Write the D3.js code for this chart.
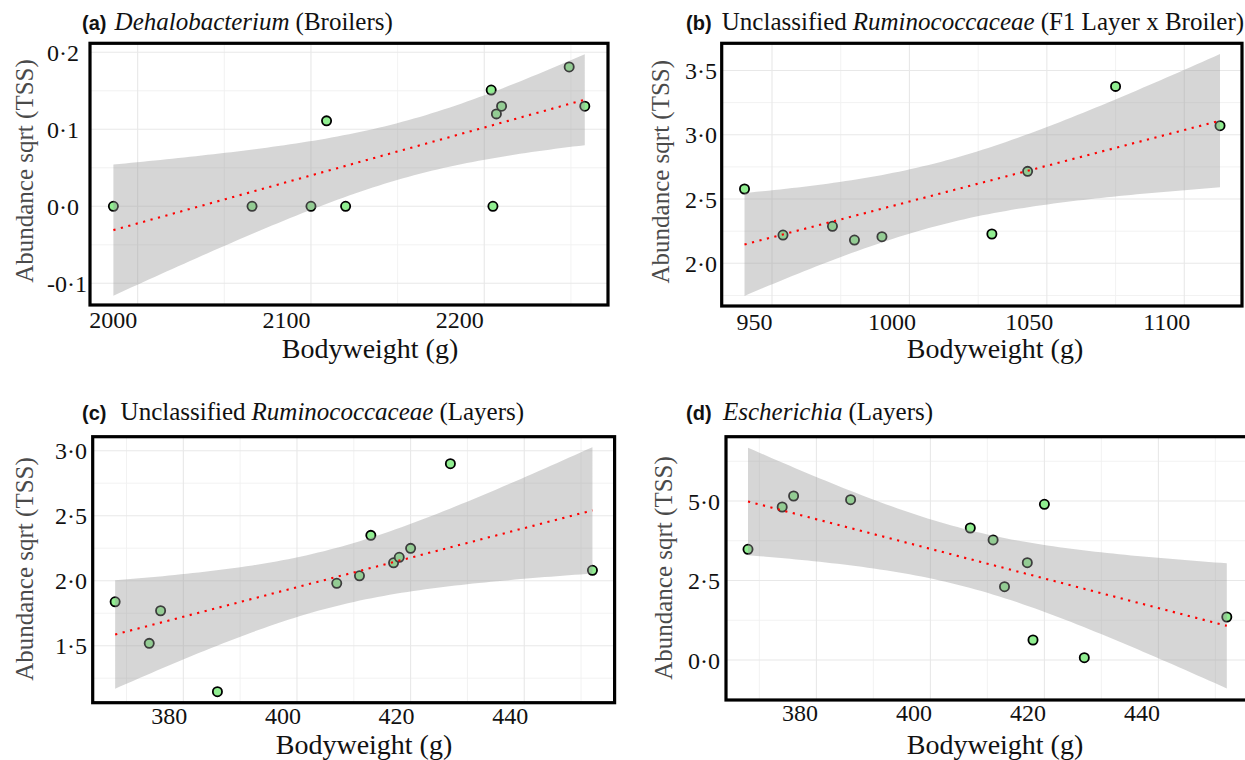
<!DOCTYPE html>
<html>
<head>
<meta charset="utf-8">
<script src="https://cdn.jsdelivr.net/npm/d3@7"></script>
<style>
  body { margin: 0; background: #fff; }
  svg { display: block; }
  .serif { font-family: "Liberation Serif", "Times New Roman", serif; }
  .tag { font-family: "Liberation Sans", Arial, sans-serif; font-weight: bold; }
</style>
</head>
<body>
<svg id="chart" width="1245" height="760"></svg>
<script>
// (a) broilers, Dehalobacterium
var broilerWeight = [1986, 2066, 2100, 2109, 2120, 2204, 2205, 2207, 2210, 2249, 2258];
var broilerAbund  = [0, 0, 0, 0.111, 0, 0.151, 0, 0.120, 0.130, 0.181, 0.130];

// (b) F1 layer x broiler, unclassified Ruminococcaceae
var f1Weight = [940, 954, 972, 980, 990, 1030, 1043, 1075, 1113];
var f1Abund  = [2.578, 2.220, 2.288, 2.181, 2.207, 2.228, 2.715, 3.376, 3.070];

// (c) and (d) layers, same birds
var layerWeight = [368, 374, 376, 386, 407, 411, 413, 417, 418, 420, 427, 452];
var layerRumino = [1.838, 1.518, 1.769, 1.146, 1.980, 2.038, 2.349, 2.138, 2.180, 2.249, 2.900, 2.080];
var layerEsch   = [3.481, 4.811, 5.157, 5.041, 4.151, 3.774, 2.305, 3.060, 0.629, 4.896, 0.072, 1.352];

// tick values
var ticksXA = [2000, 2100, 2200];
var ticksYA = [-0.1, 0, 0.1, 0.2];
var ticksXB = [950, 1000, 1050, 1100];
var ticksYB = [2.0, 2.5, 3.0, 3.5];
var ticksXLayer = [380, 400, 420, 440];
var ticksYC = [1.5, 2.0, 2.5, 3.0];
var ticksYD = [0, 2.5, 5.0];

// titles: [text, style]
var titleA = [["(a)", "tag"], ["Dehalobacterium", "it"], ["(Broilers)", "rm"]];
var titleB = [["(b)", "tag"], ["Unclassified", "rm"], ["Ruminococcaceae", "it"], ["(F1 Layer x Broiler)", "rm"]];
var titleC = [["(c)", "tag"], ["Unclassified", "rm"], ["Ruminococcaceae", "it"], ["(Layers)", "rm"]];
var titleD = [["(d)", "tag"], ["Escherichia", "it"], ["(Layers)", "rm"]];

// two-sided 95% t quantiles by degrees of freedom
var tCrit = {7: 2.365, 9: 2.262, 10: 2.228};

var panels = [
  {x: broilerWeight, y: broilerAbund, xt: ticksXA, yt: ticksYA, title: titleA,
   box: [90, 43.3, 608, 305], xd: [1972.5, 2271.4], yd: [-0.1282, 0.2117],
   titlePos: [82, 30, 114.6], yLabX: 47, xLabY: 328, xLabDx: -25,
   xTitle: [370, 358], yTitle: [24, 171]},
  {x: f1Weight, y: f1Abund, xt: ticksXB, yt: ticksYB, title: titleB,
   box: [721.7, 43.3, 1242, 306], xd: [931.7, 1121], yd: [1.668, 3.711],
   titlePos: [686, 30, 721.8], yLabX: 685, xLabY: 330, xLabDx: -18,
   xTitle: [995, 358], yTitle: [660.6, 171.7]},
  {x: layerWeight, y: layerRumino, xt: ticksXLayer, yt: ticksYC, title: titleC,
   box: [92.7, 436.7, 614.6, 702.7], xd: [364.05, 455.9], yd: [1.0615, 3.108],
   titlePos: [82, 419.5, 120.6], yLabX: 55, xLabY: 723.5, xLabDx: -14.5,
   xTitle: [364, 753.5], yTitle: [24, 569]},
  {x: layerWeight, y: layerEsch, xt: ticksXLayer, yt: ticksYD, title: titleD,
   box: [726, 436.7, 1250, 700], xd: [364.14, 456.07], yd: [-1.258, 7.022],
   titlePos: [686, 420, 723], yLabX: 688, xLabY: 721, xLabDx: -17,
   xTitle: [995, 753.5], yTitle: [663.5, 568]}
];

var svg = d3.select("#chart");

function fmtY(d) {
  var s = Math.abs(d).toFixed(1).replace(".", "\u00b7");
  return (d < 0 ? "-" : "") + s;
}

function minors(ticks, dom) {
  var step = ticks[1] - ticks[0];
  return d3.range(ticks[0] - step / 2, dom[1], step).filter(function(v) {
    return v > dom[0] && v < dom[1];
  });
}

// lm fit with 95% confidence band
function smooth(xs, ys) {
  var n = xs.length, mx = d3.mean(xs), my = d3.mean(ys);
  var sxx = d3.sum(xs, function(v) { return (v - mx) * (v - mx); });
  var sxy = d3.sum(xs, function(v, i) { return (v - mx) * (ys[i] - my); });
  var b = sxy / sxx, a = my - b * mx;
  var sse = d3.sum(xs, function(v, i) { var r = ys[i] - (a + b * v); return r * r; });
  var s = Math.sqrt(sse / (n - 2)), t = tCrit[n - 2];
  var lo = d3.min(xs), hi = d3.max(xs);
  return d3.range(0, 81).map(function(k) {
    var v = lo + k * (hi - lo) / 80;
    var f = a + b * v;
    var se = s * Math.sqrt(1 / n + (v - mx) * (v - mx) / sxx);
    return {x: v, fit: f, lo: f - t * se, hi: f + t * se};
  });
}

panels.forEach(function(p, idx) {
  var L = p.box[0], T = p.box[1], R = p.box[2], B = p.box[3];
  var x = d3.scaleLinear().domain(p.xd).range([L, R]);
  var y = d3.scaleLinear().domain(p.yd).range([B, T]);
  var g = svg.append("g");

  g.append("clipPath").attr("id", "clip" + idx)
    .append("rect").attr("x", L).attr("y", T).attr("width", R - L).attr("height", B - T);

  var inner = g.append("g").attr("clip-path", "url(#clip" + idx + ")");

  // grid
  inner.selectAll(".vminor").data(minors(p.xt, p.xd)).enter().append("line")
    .attr("x1", x).attr("x2", x).attr("y1", T).attr("y2", B)
    .attr("stroke", "#f0f0f0").attr("stroke-width", 0.9);
  inner.selectAll(".hminor").data(minors(p.yt, p.yd)).enter().append("line")
    .attr("y1", y).attr("y2", y).attr("x1", L).attr("x2", R)
    .attr("stroke", "#f0f0f0").attr("stroke-width", 0.9);
  inner.selectAll(".vmajor").data(p.xt).enter().append("line")
    .attr("x1", x).attr("x2", x).attr("y1", T).attr("y2", B)
    .attr("stroke", "#e8e8e8").attr("stroke-width", 1.1);
  inner.selectAll(".hmajor").data(p.yt).enter().append("line")
    .attr("y1", y).attr("y2", y).attr("x1", L).attr("x2", R)
    .attr("stroke", "#e8e8e8").attr("stroke-width", 1.1);

  // points
  inner.selectAll("circle").data(p.x).enter().append("circle")
    .attr("cx", function(d) { return x(d); })
    .attr("cy", function(d, i) { return y(p.y[i]); })
    .attr("r", 4.6)
    .attr("fill", "#90ee90")
    .attr("stroke", "#000")
    .attr("stroke-width", 1.8);

  // ribbon + fitted line
  var band = smooth(p.x, p.y);
  inner.append("path").datum(band)
    .attr("d", d3.area().x(function(d) { return x(d.x); })
      .y0(function(d) { return y(d.lo); }).y1(function(d) { return y(d.hi); }))
    .attr("fill", "#999999").attr("fill-opacity", 0.4);
  inner.append("path").datum(band)
    .attr("d", d3.line().x(function(d) { return x(d.x); }).y(function(d) { return y(d.fit); }))
    .attr("fill", "none").attr("stroke", "#ff0000").attr("stroke-width", 2.1)
    .attr("stroke-dasharray", "2.2 5.5");

  // border
  g.append("rect").attr("x", L).attr("y", T).attr("width", R - L).attr("height", B - T)
    .attr("fill", "none").attr("stroke", "#000").attr("stroke-width", 3.2);

  // x tick labels
  var xa = g.append("g").attr("transform", "translate(0," + p.xLabY + ")")
    .call(d3.axisBottom(x).tickValues(p.xt).tickSize(0).tickFormat(d3.format("d")));
  xa.select(".domain").remove();
  xa.attr("font-family", null).attr("font-size", null);
  xa.selectAll("text").attr("y", 0).attr("dy", 0).attr("dx", p.xLabDx)
    .attr("class", "serif").style("font-size", "24px").attr("fill", "#111");

  // y tick labels
  var ya = g.append("g").attr("transform", "translate(" + p.yLabX + ",0)")
    .call(d3.axisLeft(y).tickValues(p.yt).tickSize(0).tickFormat(fmtY));
  ya.select(".domain").remove();
  ya.attr("font-family", null).attr("font-size", null);
  ya.selectAll("text").attr("x", 0).attr("dy", "0.34em").attr("text-anchor", "start")
    .attr("class", "serif").style("font-size", "24px").attr("fill", "#111");

  // axis titles
  g.append("text").attr("class", "serif").attr("x", p.xTitle[0]).attr("y", p.xTitle[1])
    .attr("text-anchor", "middle").style("font-size", "28px")
    .attr("fill", "#111").text("Bodyweight (g)");
  g.append("text").attr("class", "serif")
    .attr("transform", "translate(" + p.yTitle[0] + "," + p.yTitle[1] + ") rotate(-90)")
    .attr("text-anchor", "middle").attr("dy", "0.35em")
    .style("font-size", "25px")
    .attr("fill", "#4a4a4a").text("Abundance sqrt (TSS)");

  // panel title
  var tt = g.append("text").attr("x", p.titlePos[0]).attr("y", p.titlePos[1]).attr("fill", "#111");
  p.title.forEach(function(part, k) {
    var ts = tt.append("tspan").text(part[0]);
    if (part[1] === "tag") {
      ts.attr("class", "tag").style("font-size", "20px");
    } else {
      ts.attr("class", "serif").style("font-size", "25px")
        .style("font-style", part[1] === "it" ? "italic" : "normal");
      if (k === 1) ts.attr("x", p.titlePos[2]);
      else ts.attr("dx", 6);
    }
  });
});
</script>
</body>
</html>
